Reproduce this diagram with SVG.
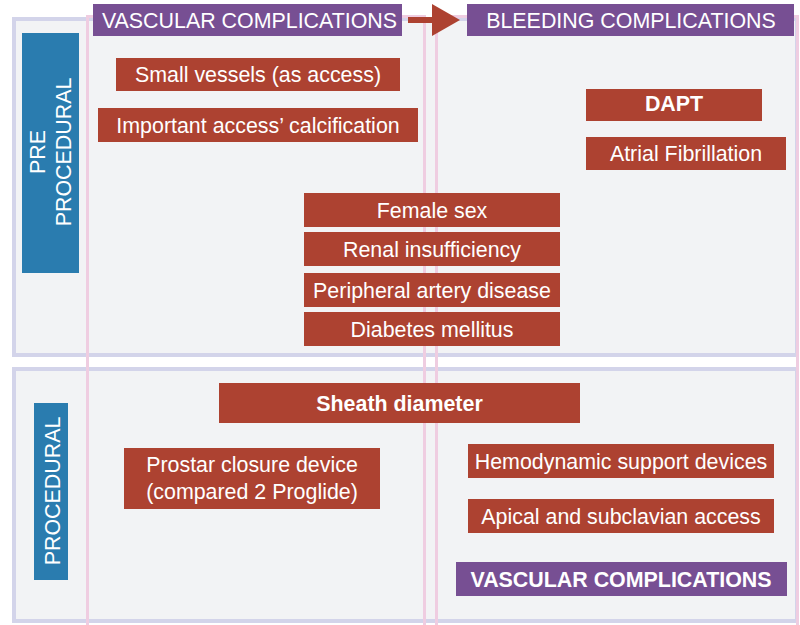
<svg xmlns="http://www.w3.org/2000/svg" width="800" height="625" viewBox="0 0 800 625">
  <defs>
    <style>
      .phase { fill: #f2f3f5; stroke: #d3d4ea; stroke-width: 4; }
      .column { fill: none; stroke: #efcde1; stroke-width: 3; }
      .stage { fill: #2a7caf; }
      .title { fill: #774f93; }
      .factor { fill: #ad4231; }
      text { font-family: "Liberation Sans", Arial, Helvetica, sans-serif; font-size: 21.4px; fill: #ffffff; text-anchor: middle; }
      .bold { font-weight: bold; }
    </style>
  </defs>
  <rect width="800" height="625" fill="#ffffff"/>

  <!-- phase bands -->
  <g id="band-pre">
    <rect class="phase" x="14" y="19" width="783" height="336"/>
  </g>
  <g id="band-proc">
    <rect class="phase" x="14" y="369" width="783" height="252"/>
  </g>

  <!-- complication columns -->
  <g id="column-vascular">
    <rect class="column" x="87.5" y="16.5" width="337" height="620"/>
  </g>
  <g id="column-bleeding">
    <rect class="column" x="436.5" y="16.5" width="361" height="620"/>
  </g>

  <!-- stage labels -->
  <g id="stage-pre">
    <rect class="stage" x="22" y="33" width="57" height="240"/>
    <g transform="rotate(-90)">
      <text x="-152" y="45">PRE</text>
      <text x="-152" y="71">PROCEDURAL</text>
    </g>
  </g>
  <g id="stage-proc">
    <rect class="stage" x="34" y="403" width="34" height="177"/>
    <text transform="rotate(-90)" x="-491" y="60">PROCEDURAL</text>
  </g>

  <!-- column headers -->
  <g id="title-vascular">
    <rect class="title" x="93" y="4" width="309" height="32"/>
    <text x="249.5" y="27.5">VASCULAR COMPLICATIONS</text>
  </g>
  <g id="title-bleeding">
    <rect class="title" x="467" y="4" width="327" height="32"/>
    <text x="631" y="27.5">BLEEDING COMPLICATIONS</text>
  </g>

  <!-- connectors -->
  <g id="connectors">
    <rect x="408" y="17" width="27" height="6" fill="#ad4231"/>
    <polygon points="432,4 460,20 432,36" fill="#ad4231"/>
  </g>

  <!-- pre-procedural factors -->
  <g id="small-vessels">
    <rect class="factor" x="116" y="58" width="284" height="33"/>
    <text x="258" y="81.5">Small vessels (as access)</text>
  </g>
  <g id="calcification">
    <rect class="factor" x="98" y="108" width="320" height="34"/>
    <text x="258" y="132.5">Important access’ calcification</text>
  </g>
  <g id="dapt">
    <rect class="factor" x="586" y="89" width="176" height="32"/>
    <text class="bold" x="674" y="111">DAPT</text>
  </g>
  <g id="atrial-fibrillation">
    <rect class="factor" x="586" y="137" width="200" height="33"/>
    <text x="686" y="160.5">Atrial Fibrillation</text>
  </g>
  <g id="female-sex">
    <rect class="factor" x="304" y="193" width="256" height="34"/>
    <text x="432" y="217.5">Female sex</text>
  </g>
  <g id="renal">
    <rect class="factor" x="304" y="232" width="256" height="34"/>
    <text x="432" y="256.5">Renal insufficiency</text>
  </g>
  <g id="pad">
    <rect class="factor" x="304" y="273" width="256" height="34"/>
    <text x="432" y="297.5">Peripheral artery disease</text>
  </g>
  <g id="diabetes">
    <rect class="factor" x="304" y="312" width="256" height="34"/>
    <text x="432" y="336.5">Diabetes mellitus</text>
  </g>

  <!-- procedural factors -->
  <g id="sheath">
    <rect class="factor" x="219" y="383" width="361" height="40"/>
    <text class="bold" x="399.5" y="410.5">Sheath diameter</text>
  </g>
  <g id="prostar">
    <rect class="factor" x="124" y="448" width="256" height="61"/>
    <text x="252" y="472">Prostar closure device</text>
    <text x="252" y="499">(compared 2 Proglide)</text>
  </g>
  <g id="hemodynamic">
    <rect class="factor" x="468" y="444" width="306" height="34"/>
    <text x="621" y="468.5">Hemodynamic support devices</text>
  </g>
  <g id="apical">
    <rect class="factor" x="468" y="499" width="306" height="34"/>
    <text x="621" y="523.5">Apical and subclavian access</text>
  </g>
  <g id="vascular-outcome">
    <rect class="title" x="456" y="562" width="331" height="34"/>
    <text class="bold" x="621" y="586.5">VASCULAR COMPLICATIONS</text>
  </g>
</svg>
